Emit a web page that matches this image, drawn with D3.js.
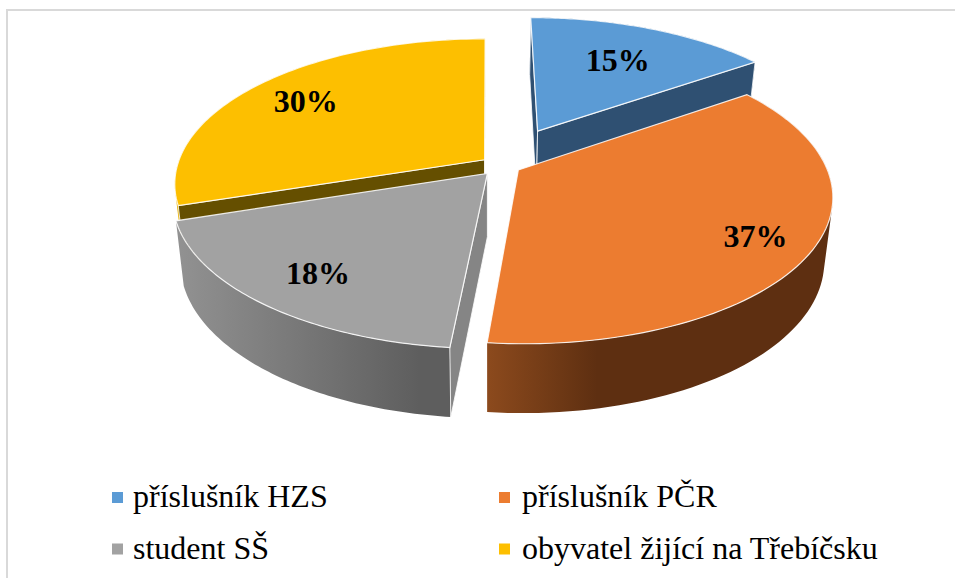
<!DOCTYPE html>
<html>
<head>
<meta charset="utf-8">
<script src="https://cdnjs.cloudflare.com/ajax/libs/d3/7.8.5/d3.min.js"></script>
<style>
html, body { margin: 0; padding: 0; background: #fff; overflow: hidden; }
text { font-family: "Liberation Serif", serif; fill: #000; }
</style>
</head>
<body>
<svg id="chart" width="955" height="578"></svg>
<script>
var categories = ["příslušník HZS", "příslušník PČR", "student SŠ", "obyvatel žijící na Třebíčsku"];
var shares = [15.3, 36.3, 18.4, 30];
var labels = ["15%", "37%", "18%", "30%"];
var topColors = ["#5b9bd5", "#ec7c30", "#a2a2a2", "#fdbf00"];
var cutColors = ["#2f5072", "#8a471c", "#858585", "#654f00"];
var wallStart = ["#2f5072", "#8c4a1d", "#929292", "#e8b000"];
var wallEnd = ["#2f5072", "#5e2f11", "#5e5e5e", "#e8b000"];

// how far each slice is pulled out on the disc, and where its label sits
var pullU = [0.168, 0.098, -0.002, -0.011];
var pullV = [-0.24, 0.042, 0.065, -0.03];
var labelAt = [0.68, 0.82, 0.78, 0.78];

var svg = d3.select("#chart");
var cx = 488, cy = 164;
var rx = 307, ry = 142.5, k = 0.167, depth = 63;

function project(u, v, bottom) {
  var w = 1 / (1 - k * v);
  var x = rx * u * w, y = ry * v * w;
  if (bottom) return [cx + x * 0.975, cy + y + depth * Math.sqrt(w)];
  return [cx + x, cy + y];
}

var pie = d3.pie().sort(null).value(function(d) { return d; });
var slices = pie(shares).map(function(d, i) {
  return {
    i: i, a0: d.startAngle, a1: d.endAngle,
    mid: (d.startAngle + d.endAngle) / 2,
    ox: pullU[i], oy: pullV[i]
  };
});

function onRim(s, a, r, bottom) {
  return project(s.ox + r * Math.sin(a), s.oy - r * Math.cos(a), bottom);
}
function rim(s, bottom) {
  var n = 80, pts = [];
  for (var j = 0; j <= n; j++) pts.push(onRim(s, s.a0 + (s.a1 - s.a0) * j / n, 1, bottom));
  return pts;
}

var line = d3.line().curve(d3.curveLinearClosed);
var defs = svg.append("defs");

// chart frame
svg.append("path")
  .attr("d", "M7,578V10H955")
  .attr("fill", "none")
  .attr("stroke", "#d9d9d9")
  .attr("stroke-width", 2);

slices.forEach(function(s) {
  var xs = d3.extent(rim(s, false), function(p) { return p[0]; });
  var g = defs.append("linearGradient")
    .attr("id", "wall" + s.i)
    .attr("gradientUnits", "userSpaceOnUse")
    .attr("x1", xs[0]).attr("x2", s.i == 1 ? xs[0] + 110 : s.i == 2 ? xs[1] - 30 : xs[1])
    .attr("y1", 0).attr("y2", 0);
  g.append("stop").attr("offset", 0).attr("stop-color", wallStart[s.i]);
  g.append("stop").attr("offset", 1).attr("stop-color", wallEnd[s.i]);
});

// back slices first, the front ones cover their cut walls
var order = [0, 3, 1, 2];
var layer = svg.append("g");
order.forEach(function(i) {
  var s = slices[i];
  var g = layer.append("g");
  var apex = onRim(s, s.a0, 0, false);
  var up = rim(s, false), down = rim(s, true);

  // outer wall: quads in one path, all wound the same way, so no seams and a filled silhouette
  var wall = d3.range(up.length - 1).map(function(j) {
    var quad = [up[j], up[j + 1], down[j + 1], down[j]];
    if (d3.polygonArea(quad) < 0) quad.reverse();
    return line(quad);
  }).join("");
  g.append("path")
    .attr("d", wall)
    .attr("fill", "url(#wall" + i + ")");

  [s.a0, s.a1].forEach(function(a) {
    var dx = onRim(s, a, 1, false)[0] - apex[0];
    // a cut wall only shows when it drops away from the slice
    if ((a == s.a0 && dx > 0) || (a == s.a1 && dx < 0)) return;
    g.append("path")
      .attr("d", line([onRim(s, a, 0, false), onRim(s, a, 1, false), onRim(s, a, 1, true), onRim(s, a, 0, true)]))
      .attr("fill", cutColors[i])
      .attr("stroke", "#fff").attr("stroke-opacity", 0.8).attr("stroke-width", 1);
  });
  g.append("path")
    .attr("d", line([apex].concat(up)))
    .attr("fill", topColors[i])
    .attr("stroke", "#fff").attr("stroke-opacity", 0.85).attr("stroke-width", 1.2);
});

// percent labels
slices.forEach(function(s) {
  var p = onRim(s, s.mid, labelAt[s.i], false);
  svg.append("text")
    .attr("x", p[0]).attr("y", p[1] + 12)
    .attr("text-anchor", "middle")
    .attr("font-size", 32)
    .attr("font-weight", "bold")
    .text(labels[s.i]);
});

// legend, two rows of two
var legendX = d3.scalePoint().domain([0, 1]).range([112, 499]);
var legendY = d3.scalePoint().domain([0, 1]).range([497.5, 549]);
categories.forEach(function(c, i) {
  var col = i % 2, row = Math.floor(i / 2);
  svg.append("rect")
    .attr("x", legendX(col)).attr("y", legendY(row) - 5.5)
    .attr("width", 11).attr("height", 11)
    .attr("fill", topColors[i]);
  svg.append("text")
    .attr("x", legendX(col) + 21 + (col ? 2 : 0)).attr("y", legendY(row) + 9.5)
    .attr("font-size", 32)
    .attr("fill", "#1a1a1a")
    .text(c);
});
</script>
</body>
</html>
